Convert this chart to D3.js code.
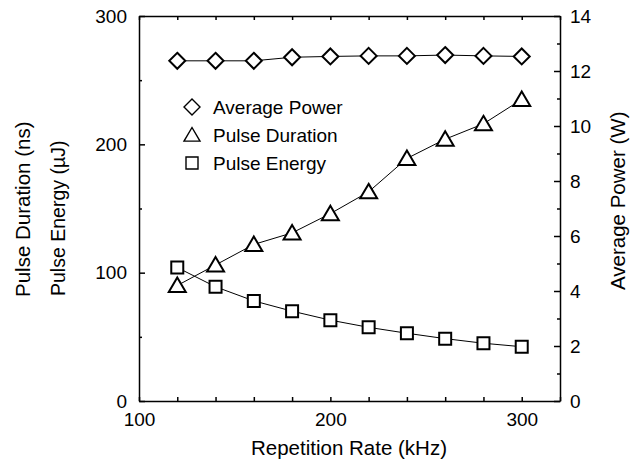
<!DOCTYPE html>
<html>
<head>
<meta charset="utf-8">
<script src="https://cdn.jsdelivr.net/npm/d3@7"></script>
<style>
  body { margin: 0; background: #fff; }
  svg { display: block; font-family: "Liberation Sans", Arial, Helvetica, sans-serif; }
  .axis path, .axis line { stroke: #000; stroke-width: 1.5; }
  .axis text { font-size: 19px; fill: #000; }
  .title { font-size: 20.5px; fill: #000; }
  .series { fill: none; stroke: #000; stroke-width: 1; }
  .mark { fill: #fff; stroke: #000; stroke-width: 2; }
</style>
</head>
<body>
<svg width="640" height="467"></svg>
<script>
// repetition rate (kHz)
var rates = [120, 140, 160, 180, 200, 220, 240, 260, 280, 300];
// average power (W), right axis
var power = [12.37, 12.37, 12.37, 12.5, 12.53, 12.55, 12.55, 12.58, 12.55, 12.53];
// pulse duration (ns), left axis
var duration = [90, 106, 122, 131, 146, 163, 189, 204, 216, 235];
// pulse energy (uJ), left axis
var energy = [104, 89, 78, 70, 63, 57.4, 52.8, 48.6, 45, 42.3];

var xTicks = [100, 200, 300];
var leftTicks = [0, 100, 200, 300];
var rightTicks = [0, 2, 4, 6, 8, 10, 12, 14];

var legendItems = ["Average Power", "Pulse Duration", "Pulse Energy"];

var svg = d3.select("svg");

var x = d3.scaleLinear().domain([100, 320]).range([139, 560]);
var yL = d3.scaleLinear().domain([0, 300]).range([401, 16]);
var yR = d3.scaleLinear().domain([0, 14]).range([401, 16]);

// marker shapes
function diamond(cx, cy, r) {
  return "M" + cx + "," + (cy - r) + "L" + (cx + r) + "," + cy + "L" + cx + "," + (cy + r) + "L" + (cx - r) + "," + cy + "Z";
}
function triangle(cx, cy, r) {
  var h = r * 1.7;
  return "M" + cx + "," + (cy - h * 0.55) + "L" + (cx + r) + "," + (cy + h * 0.45) + "L" + (cx - r) + "," + (cy + h * 0.45) + "Z";
}
function square(cx, cy, r) {
  return "M" + (cx - r) + "," + (cy - r) + "h" + 2 * r + "v" + 2 * r + "h" + -2 * r + "Z";
}

// axes
var minorX = d3.range(100, 321, 20);

svg.append("g").attr("class", "axis")
    .attr("transform", "translate(0,401)")
    .call(d3.axisBottom(x).tickValues(minorX).tickSizeInner(-4).tickSizeOuter(0).tickPadding(12)
      .tickFormat(function(d) { return xTicks.indexOf(d) >= 0 ? d : ""; }));

svg.append("g").attr("class", "axis")
    .attr("transform", "translate(0,16)")
    .call(d3.axisTop(x).tickValues(minorX).tickSizeInner(-4).tickSizeOuter(0).tickFormat(""));

var gl = svg.append("g").attr("class", "axis")
    .attr("transform", "translate(139,0)")
    .call(d3.axisLeft(yL).tickValues(d3.range(0, 301, 50)).tickSizeInner(-6).tickSizeOuter(0).tickPadding(12)
      .tickFormat(function(d) { return leftTicks.indexOf(d) >= 0 ? d : ""; }));
gl.selectAll(".tick line").attr("x2", function(d) { return leftTicks.indexOf(d) >= 0 ? 6 : 3; });

var gr = svg.append("g").attr("class", "axis")
    .attr("transform", "translate(560,0)")
    .call(d3.axisRight(yR).tickValues(d3.range(0, 15, 1)).tickSizeInner(-6).tickSizeOuter(0).tickPadding(10)
      .tickFormat(function(d) { return rightTicks.indexOf(d) >= 0 ? d : ""; }));
gr.selectAll(".tick line").attr("x2", function(d) { return rightTicks.indexOf(d) >= 0 ? -6 : -3; });

// axis titles
svg.append("text").attr("class", "title").attr("x", 349).attr("y", 455).attr("text-anchor", "middle")
    .text("Repetition Rate (kHz)");
svg.append("text").attr("class", "title").attr("transform", "translate(30,297) rotate(-90)")
    .text("Pulse Duration (ns)");
svg.append("text").attr("class", "title").attr("transform", "translate(65,296) rotate(-90)")
    .style("font-size", "19.5px").text("Pulse Energy (\u00b5J)");
svg.append("text").attr("class", "title").attr("transform", "translate(625,290) rotate(-90)")
    .text("Average Power (W)");

// series
var series = [
  { values: power, y: yR, shape: diamond, r: 8 },
  { values: duration, y: yL, shape: triangle, r: 8.5 },
  { values: energy, y: yL, shape: square, r: 6 }
];

series.forEach(function(s) {
  var line = d3.line()
      .x(function(d, i) { return x(rates[i]); })
      .y(function(d) { return s.y(d); });
  svg.append("path").attr("class", "series").attr("d", line(s.values));
  svg.append("g").selectAll("path")
      .data(s.values)
      .enter().append("path")
      .attr("class", "mark")
      .attr("d", function(d, i) { return s.shape(x(rates[i]), s.y(d), s.r); });
});

// legend
var legend = svg.append("g");
legendItems.forEach(function(name, i) {
  var cy = 107 + i * 28;
  legend.append("path").attr("class", "mark").style("stroke-width", 1.4)
      .attr("d", series[i].shape(192, cy, [8, 8, 6][i]));
  legend.append("text").attr("x", 213).attr("y", cy + 7)
      .style("font-size", "19px").text(name);
});
</script>
</body>
</html>
